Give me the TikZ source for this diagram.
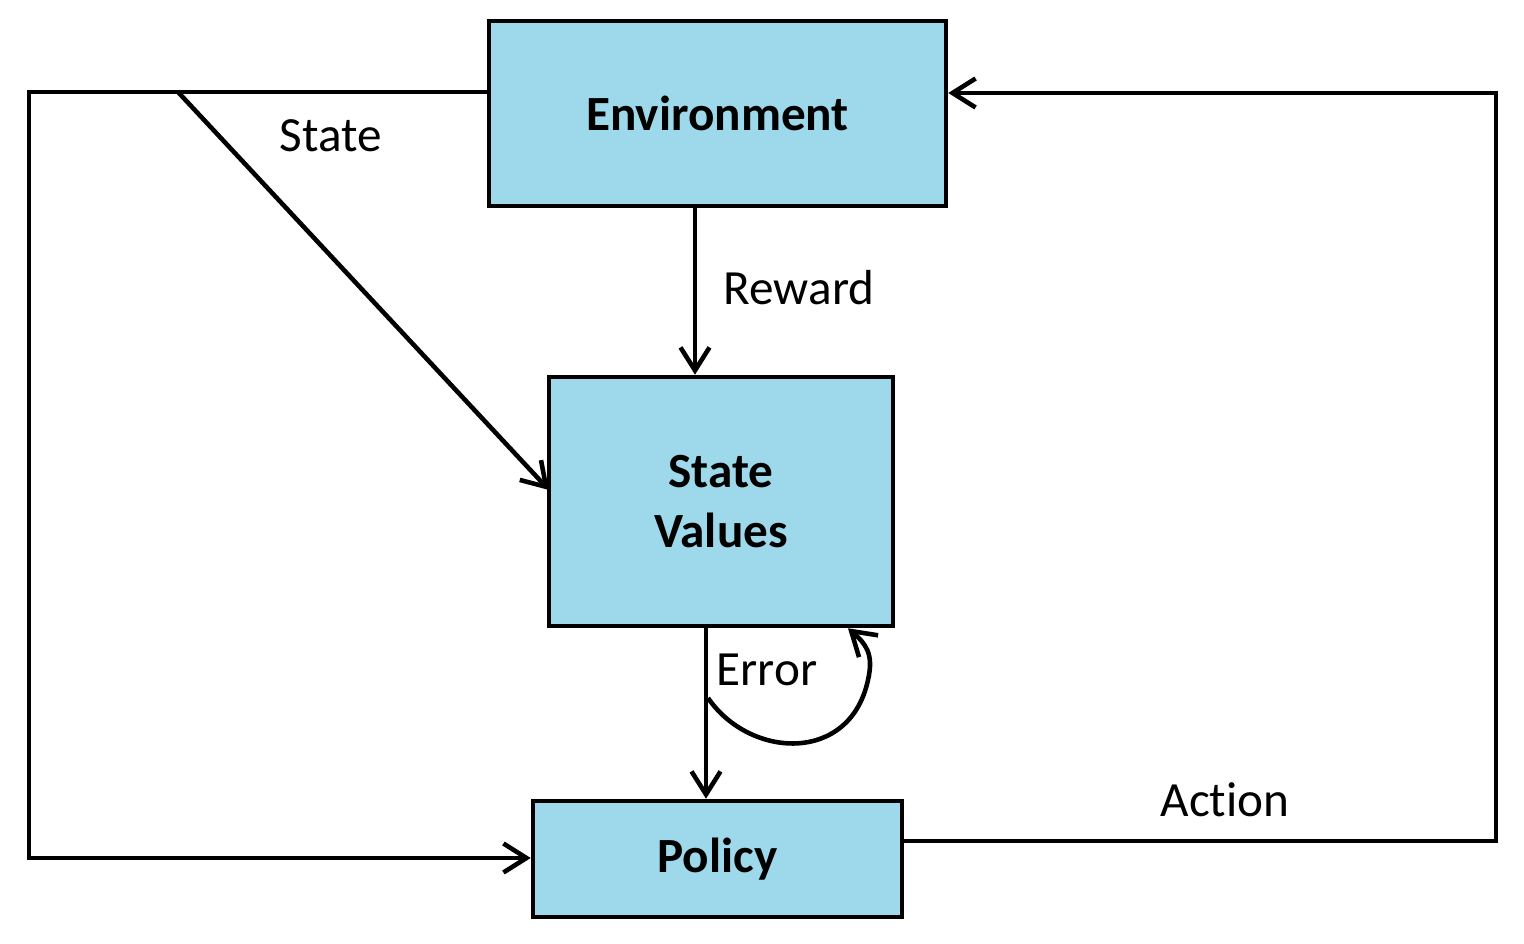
\documentclass[tikz,border=0pt]{standalone}
\usepackage{fontspec}
\setmainfont[Ligatures=CommonOff]{Carlito}
\usetikzlibrary{arrows.meta}
\definecolor{boxblue}{HTML}{9DD9EA}
\tikzset{
	block/.style={draw, fill=boxblue, line width=1.3pt, inner sep=0pt, align=center, font=\fontsize{14}{17}\selectfont\bfseries},
	flow/.style={line width=1.3pt, -{Straight Barb[length=2.3mm,width=2.9mm,line width=1.3pt]}},
	lbl/.style={font=\fontsize{14}{17}\selectfont}
}
\begin{document}
\begin{tikzpicture}
	\useasboundingbox (0,0) rectangle (15.24,9.44);
	% boxes
	\node[block, minimum width=4.57cm, minimum height=1.85cm] (env) at (7.175,8.305) {Environment};
	\node[block, minimum width=3.44cm, minimum height=2.49cm] (val) at (7.21,4.425) {State\\ Values};
	\node[block, minimum width=3.69cm, minimum height=1.16cm] (pol) at (7.175,0.85) {Policy};

	% corners of the loops
	\coordinate (sl) at (0.29,8.52);
	\coordinate (sb) at (0.29,0.86);
	\coordinate (sd) at (1.78,8.52);
	\coordinate (sv) at (5.49,4.54);
	\coordinate (rx) at (6.95,0);
	\coordinate (ex) at (7.06,0);
	\coordinate (es) at (7.08,2.46);
	\coordinate (ee) at (8.48,0);
	\coordinate (ab) at (14.96,1.03);
	\coordinate (at) at (14.96,8.51);

	% state
	\draw[flow] (env.west |- sl) -- (sl) -- (sb) -- (pol.west |- sb);
	\draw[flow] (sd) -- (sv);
	% reward and error
	\draw[flow] (env.south -| rx) -- (val.north -| rx);
	\draw[flow] (val.south -| ex) -- (pol.north -| ex);
	\draw[flow] (es) .. controls (7.5,1.85) and (8.5,1.8) .. (8.68,2.64) .. controls (8.74,2.9) and (8.66,3.0) .. (val.south -| ee);
	% action
	\draw[flow] (pol.east |- ab) -- (ab) -- (at) -- (env.east |- at);

	% labels
	\node[lbl] (lstate) at (3.31,8.08) {State};
	\node[lbl] (lreward) at (7.99,6.56) {Reward};
	\node[lbl] (lerror) at (7.67,2.74) {Error};
	\node[lbl] (laction) at (12.25,1.44) {Act\kern0pt ion};
\end{tikzpicture}
\end{document}
